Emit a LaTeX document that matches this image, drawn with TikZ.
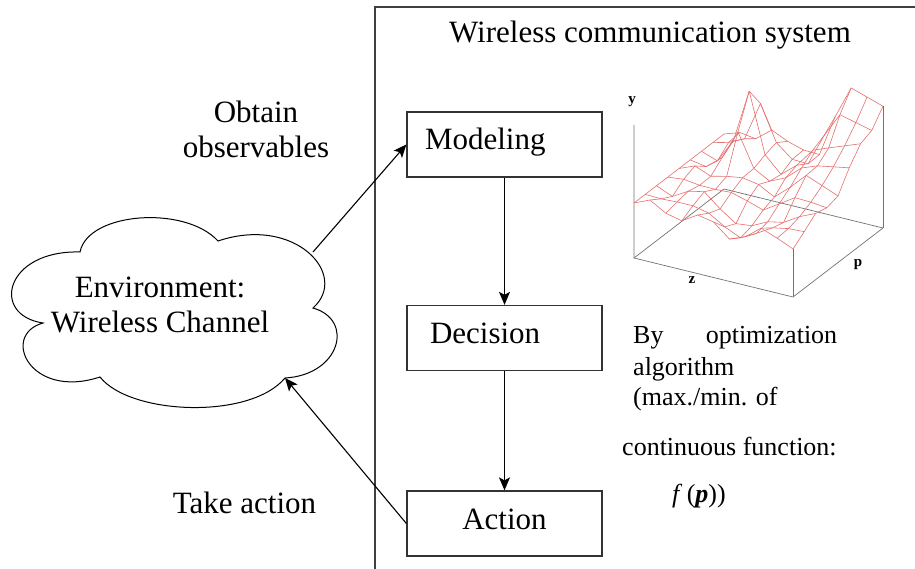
\documentclass[tikz,border=0pt]{standalone}
\usepackage{fontspec}
\setmainfont{Liberation Serif}
\usetikzlibrary{arrows.meta}

\definecolor{meshred}{RGB}{228,112,112}

\begin{document}
\begin{tikzpicture}[x=1pt,y=-1pt,
  stepbox/.style={draw=black!80, line width=1.3pt, minimum width=195pt,
    minimum height=65pt, text height=21pt, text depth=10pt,
    font=\fontsize{31}{35}\selectfont},
  flow/.style={-{Stealth[length=13pt,width=11pt,inset=3pt]}, line width=1.1pt},
  lbl/.style={font=\fontsize{31}{35}\selectfont, align=center, inner sep=0pt},
  note/.style={font=\fontsize{26}{30}\selectfont, anchor=base west, inner sep=0pt},
  mesh/.style={draw=meshred, line width=0.6pt, line join=round},
  axis/.style={draw=black!55, line width=0.7pt},
  axlbl/.style={font=\bfseries\fontsize{15}{15}\selectfont, inner sep=0pt},
  declare function={
    sm(\u)=min(1,max(0,(\u-0.55)/0.25));
    hh(\u,\v)=55 + 68*exp(-((\u-0.3)^2/0.007 + (\v-0.78)^2/0.04))
      + 72*\v*\v*sm(\u)*sm(\u)*(3-2*sm(\u))
      - 25*exp(-((\u-0.6)^2/0.02 + (\v-0.2)^2/0.03))
      + 7*sin(1000*\u)*cos(760*\v);
    px(\u,\v)=634+159*\u+90*\v;
    py(\u,\v)=258+39*\u-69*\v-hh(\u,\v);
  }]
\useasboundingbox (0,0) rectangle (915,569);

% system frame (open to the right and bottom)
\draw[line width=1.3pt, black!75] (375,569) -- (375,7) -- (915,7);
\node[lbl, anchor=base] (title) at (650,43) {Wireless communication system};

% processing chain
\node[stepbox, text width=159pt, inner xsep=18pt, align=left] (model) at (504.5,144.5) {Modeling};
\node[stepbox, text width=149pt, inner xsep=23pt, align=left] (decide) at (504.5,338) {Decision};
\node[stepbox, text width=183pt, inner xsep=6pt, align=center] (act) at (504.5,523.5) {Action};
\draw[flow] (model.south) -- (decide.north);
\draw[flow] (decide.south) -- (act.north);

% environment cloud
\coordinate (n1) at (80,252);
\coordinate (n2) at (218,241);
\coordinate (n3) at (313,308);
\coordinate (n4) at (285,378);
\coordinate (n5) at (100,377);
\coordinate (n6) at (43,323);
\draw[line width=1pt] (n1)
  .. controls (88,212) and (185,205) .. (n2)
  .. controls (295,215) and (350,275) .. (n3)
  .. controls (355,320) and (340,375) .. (n4)
  .. controls (250,420) and (130,415) .. (n5)
  .. controls (30,400) and (0,335) .. (n6)
  .. controls (-10,315) and (5,250) .. (n1) -- cycle;
\node[lbl, anchor=base] (envtext) at (160,332) {Environment:\\Wireless Channel};

% loop between environment and system
\coordinate (envout) at (313,252);
\draw[flow] (envout) -- (model.west);
\draw[flow] (act.west) -- (n4);
\node[lbl, anchor=base] (obtain) at (256,158) {Obtain\\observables};
\node[lbl, anchor=base] (take) at (244.5,513) {Take action};

% objective surface y over (z, p)
\draw[axis] (634,125) -- (634,258) -- (793,297) -- (883,228);
\draw[axis] (634,258) -- (724,189) -- (883,228);
\draw[axis] (793,297) -- ({px(1,0)},{py(1,0)});
\draw[axis] (883,228) -- ({px(1,1)},{py(1,1)});
\foreach \j in {0,...,8} {
  \draw[mesh] plot[domain=0:1, samples=11, variable=\t] ({px(\t,\j/8)},{py(\t,\j/8)});
}
\foreach \i in {0,...,10} {
  \draw[mesh] plot[domain=0:1, samples=9, variable=\t] ({px(\i/10,\t)},{py(\i/10,\t)});
}
\node[axlbl] (ylab) at (632,102) {y};
\node[axlbl] (zlab) at (692,280) {z};
\node[axlbl] (plab) at (858,265) {p};

% optimisation note
\node[note] (o1) at (633,343) {\makebox[204pt]{By\hfill optimization}};
\node[note] (o2) at (633,375) {algorithm};
\node[note] (o3) at (633,405) {(max./min. of};
\node[note] (o4) at (622,455) {continuous function:};
\node[note] (o5) at (672,502) {\textit{f}\,(\textbf{\textit{p}}))};
\end{tikzpicture}
\end{document}
